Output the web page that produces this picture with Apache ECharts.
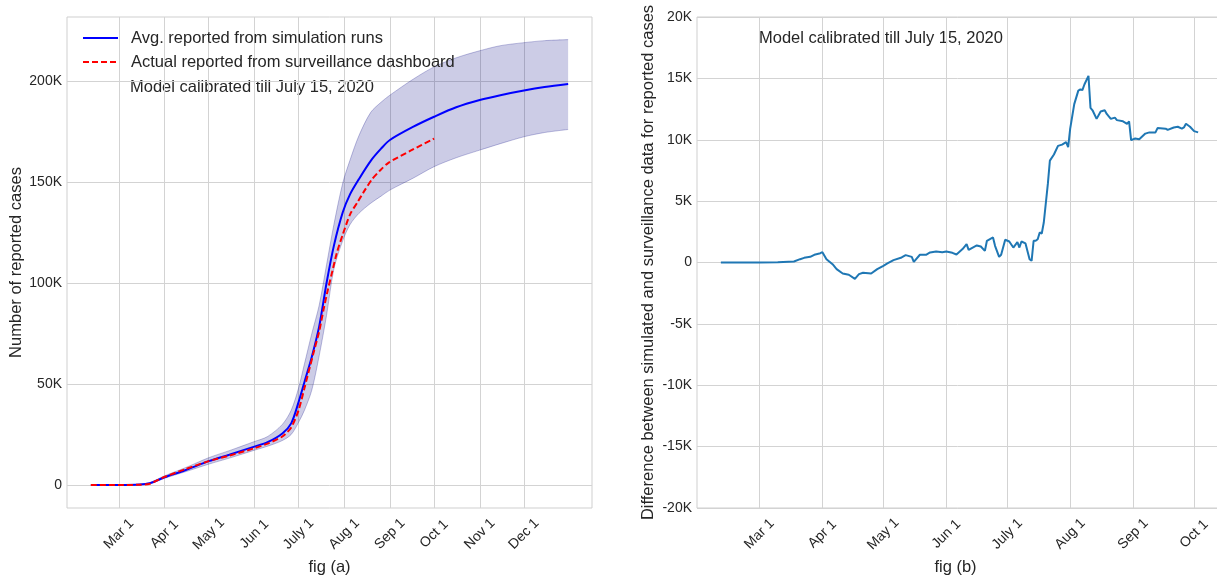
<!DOCTYPE html>
<html>
<head>
<meta charset="utf-8">
<title>Reported cases: simulation vs surveillance</title>
<script src="https://cdn.jsdelivr.net/npm/echarts@6/dist/echarts.min.js"></script>
<style>
  html, body { margin: 0; padding: 0; background: #ffffff; }
  #chart { width: 1217px; height: 577px; }
</style>
</head>
<body>
<div id="chart"></div>
<script>
// ---- data (values in thousands of cases) ----
const simDates = ['2020-02-11','2020-03-01','2020-03-15','2020-03-22','2020-04-01','2020-04-15','2020-05-01','2020-05-15',
  '2020-06-01','2020-06-10','2020-06-20','2020-06-26','2020-07-01','2020-07-05','2020-07-10','2020-07-15','2020-07-20',
  '2020-07-25','2020-07-31','2020-08-05','2020-08-11','2020-08-19','2020-08-26','2020-09-01','2020-09-17','2020-10-01',
  '2020-10-16','2020-11-01','2020-11-15','2020-12-01','2020-12-15','2020-12-31'];
const simAvg   = [0, 0, 0.2, 0.9, 3.8, 7.3, 11.8, 15.0, 19.0, 21.2, 25.5, 30.5, 41, 51, 63.5, 78.5, 100,
  118.5, 135, 144, 151.5, 160.5, 166.5, 170.8, 177.4, 182.3, 187, 190.6, 193, 195.3, 197, 198.5];
const simLower = [0, 0, 0.1, 0.6, 3.3, 6.5, 10.3, 13.3, 17.2, 19.2, 22, 25, 31, 37, 47, 64, 84,
  107, 121, 129, 134.5, 139.5, 143, 146, 152, 157.6, 162, 165.8, 169, 172.4, 174.5, 176];
const simUpper = [0, 0, 0.3, 1.2, 4.5, 8.5, 13.5, 17, 21.5, 24, 30, 37, 48, 60, 75, 89, 109,
  129, 149.5, 161, 173, 184.5, 189.5, 193, 201, 207, 211.5, 215, 217.5, 219, 220, 220.5];

const actualDates = ['2020-02-11','2020-03-01','2020-03-15','2020-03-22','2020-04-01','2020-04-15','2020-05-01','2020-05-15',
  '2020-06-01','2020-06-10','2020-06-20','2020-06-26','2020-07-01','2020-07-05','2020-07-11','2020-07-15','2020-07-18',
  '2020-07-21','2020-07-24','2020-07-27','2020-07-31','2020-08-05','2020-08-10','2020-08-15','2020-08-20','2020-08-25',
  '2020-08-31','2020-09-15','2020-10-01'];
const actualValues = [0, 0, 0.1, 0.6, 4.0, 7.8, 11.8, 14.5, 18.2, 20.5, 24, 28.5, 37, 48, 65, 76, 87,
  97, 106, 115, 124, 134, 140, 146, 151.5, 155.5, 159.5, 165.5, 171.5];

const diffDates = ['2020-02-11','2020-03-01','2020-03-10','2020-03-18','2020-03-21','2020-03-23','2020-03-26','2020-03-28',
  '2020-03-31','2020-04-01','2020-04-03','2020-04-06','2020-04-08','2020-04-11','2020-04-14','2020-04-17','2020-04-19',
  '2020-04-21','2020-04-25','2020-04-28','2020-05-01','2020-05-03','2020-05-06','2020-05-10','2020-05-12','2020-05-15',
  '2020-05-16','2020-05-19','2020-05-22','2020-05-24','2020-05-27','2020-05-30','2020-06-01','2020-06-04','2020-06-06',
  '2020-06-09','2020-06-11','2020-06-12','2020-06-14','2020-06-16','2020-06-18','2020-06-20','2020-06-21','2020-06-24',
  '2020-06-25','2020-06-27','2020-06-28','2020-06-30','2020-07-02','2020-07-04','2020-07-06','2020-07-07','2020-07-08',
  '2020-07-10','2020-07-12','2020-07-13','2020-07-14','2020-07-15','2020-07-16','2020-07-17','2020-07-18','2020-07-19',
  '2020-07-21','2020-07-22','2020-07-24','2020-07-26','2020-07-28','2020-07-30','2020-07-31','2020-08-01','2020-08-03',
  '2020-08-05','2020-08-06','2020-08-07','2020-08-08','2020-08-10','2020-08-11','2020-08-12','2020-08-14','2020-08-16',
  '2020-08-18','2020-08-19','2020-08-21','2020-08-23','2020-08-24','2020-08-27','2020-08-29','2020-08-30','2020-08-31',
  '2020-09-02','2020-09-04','2020-09-07','2020-09-09','2020-09-12','2020-09-13','2020-09-17','2020-09-18','2020-09-21',
  '2020-09-23','2020-09-25','2020-09-26','2020-09-27','2020-09-29','2020-10-01','2020-10-03'];
const diffValues = [0, 0, 0.02, 0.08, 0.27, 0.38, 0.46, 0.63,
  0.76, 0.84, 0.27, -0.14, -0.54, -0.9, -1.0, -1.33, -0.95,
  -0.84, -0.9, -0.54, -0.27, -0.08, 0.19, 0.41, 0.6, 0.46,
  0.05, 0.63, 0.63, 0.82, 0.9, 0.84, 0.9, 0.79, 0.65,
  1.09, 1.5, 1.03, 1.22, 1.39, 1.3, 0.95, 1.77, 2.04,
  1.36, 0.46, 0.63, 1.85, 1.71, 1.22, 1.66, 1.22, 1.71,
  1.55, 0.27, 0.14, 1.77, 1.77, 1.9, 2.45, 2.36, 3.26,
  6.4, 8.3, 8.8, 9.5, 9.6, 9.8, 9.4, 10.9, 12.9,
  14.0, 14.1, 14.05, 14.5, 15.2, 12.6, 12.4, 11.7, 12.3,
  12.4, 12.1, 11.7, 11.8, 11.6, 11.5, 11.3, 11.5, 9.97,
  10.1, 10.05, 10.5, 10.6, 10.6, 10.95, 10.9, 10.8, 11.0,
  11.06, 10.9, 11.0, 11.3, 11.06, 10.7, 10.6];

// ---- tick labels ----
const monthTicksA = ['2020-03-01','2020-04-01','2020-05-01','2020-06-01','2020-07-01','2020-08-01','2020-09-01','2020-10-01','2020-11-01','2020-12-01'];
const monthTicksB = ['2020-03-01','2020-04-01','2020-05-01','2020-06-01','2020-07-01','2020-08-01','2020-09-01','2020-10-01'];
const monthLabels = ['Mar 1','Apr 1','May 1','Jun 1','July 1','Aug 1','Sep 1','Oct 1','Nov 1','Dec 1'];
const yTicksA = [0, 50, 100, 150, 200];
const yTicksB = [-20, -15, -10, -5, 0, 5, 10, 15, 20];

// ---- helpers: dates become UTC-midnight timestamps ----
const DAY = 86400000;
function ts(s) { const p = s.split('-').map(Number); return Date.UTC(p[0], p[1] - 1, p[2]); }
function pairs(dates, vals) { return dates.map((d, i) => [ts(d), vals[i]]); }
const tickTsA = monthTicksA.map(ts);
const tickTsB = monthTicksB.map(ts);
function monthLabel(v) {
  const i = tickTsA.indexOf(v);
  return i >= 0 ? monthLabels[i] : '';
}
function kLabel(v) { return v === 0 ? '0' : v + 'K'; }

const xMinA = ts('2020-01-25') + 0.8 * DAY, xMaxA = ts('2021-01-16') + 0.2 * DAY;
const xMinB = ts('2020-01-30') + 0.25 * DAY, xMaxB = ts('2020-10-14') + 0.75 * DAY;

const FONT = '"Liberation Sans", Arial, sans-serif';
const TXT = '#262626';
const GRID = '#d3d3d3';

const xAxisCommon = {
  type: 'value',
  axisLine: { show: false },
  splitLine: { show: true, lineStyle: { color: GRID, width: 1 } },
  axisLabel: {
    rotate: 45, align: 'center', verticalAlign: 'middle', margin: 26,
    fontSize: 14, fontFamily: FONT, color: TXT, formatter: monthLabel, hideOverlap: false
  },
  nameLocation: 'middle', nameGap: 49,
  nameTextStyle: { fontSize: 16.5, fontFamily: FONT, color: TXT }
};
const yAxisCommon = {
  type: 'value',
  axisLine: { show: false },
  splitLine: { show: true, lineStyle: { color: GRID, width: 1 } },
  axisLabel: { fontSize: 14, fontFamily: FONT, color: TXT, margin: 5, formatter: kLabel },
  nameLocation: 'middle', nameGap: 40, nameRotate: 90,
  nameTextStyle: { fontSize: 16.5, fontFamily: FONT, color: TXT }
};

const chart = echarts.init(document.getElementById('chart'), null, { renderer: 'canvas' });
chart.setOption({
  animation: false,
  backgroundColor: '#ffffff',
  grid: [
    { left: 67, width: 525, top: 17, height: 491, outerBoundsMode: 'none', containLabel: false,
      show: true, borderColor: '#cfcfcf', borderWidth: 1, backgroundColor: 'transparent' },
    { left: 697, width: 525, top: 17, height: 491, outerBoundsMode: 'none', containLabel: false,
      show: true, borderColor: '#cfcfcf', borderWidth: 1, backgroundColor: 'transparent' }
  ],
  xAxis: [
    Object.assign({}, xAxisCommon, {
      gridIndex: 0, name: 'fig (a)', min: xMinA, max: xMaxA,
      axisLabel: Object.assign({}, xAxisCommon.axisLabel, { customValues: tickTsA }),
      axisTick: { show: false, customValues: tickTsA }
    }),
    Object.assign({}, xAxisCommon, {
      gridIndex: 1, name: 'fig (b)', min: xMinB, max: xMaxB,
      nameTextStyle: Object.assign({}, xAxisCommon.nameTextStyle, { padding: [0, 8, 0, 0] }),
      axisLabel: Object.assign({}, xAxisCommon.axisLabel, { customValues: tickTsB }),
      axisTick: { show: false, customValues: tickTsB }
    }),
    // hidden time axis sharing the left panel's range, so the spread band stacks along y
    { type: 'time', gridIndex: 0, min: xMinA, max: xMaxA, show: false }
  ],
  yAxis: [
    Object.assign({}, yAxisCommon, {
      gridIndex: 0, name: 'Number of reported cases', nameGap: 37,
      min: -11.4, max: 231.7,
      axisLabel: Object.assign({}, yAxisCommon.axisLabel, { customValues: yTicksA }),
      axisTick: { show: false, customValues: yTicksA }
    }),
    Object.assign({}, yAxisCommon, {
      gridIndex: 1, name: 'Difference between simulated and surveillance data for reported cases',
      min: -20, max: 20,
      axisLabel: Object.assign({}, yAxisCommon.axisLabel, { customValues: yTicksB }),
      axisTick: { show: false, customValues: yTicksB }
    })
  ],
  legend: {
    data: ['Avg. reported from simulation runs', 'Actual reported from surveillance dashboard'],
    orient: 'vertical', left: 82, top: 29, padding: 0,
    itemWidth: 35, itemHeight: 18, itemGap: 6,
    selectedMode: false,
    itemStyle: { opacity: 0 },
    textStyle: { fontSize: 16.5, fontFamily: FONT, color: TXT, padding: [0, 0, 0, 8], lineHeight: 18 }
  },
  graphic: [
    { type: 'text', left: 130, top: 79, silent: true,
      style: { text: 'Model calibrated till July 15, 2020', font: '16.5px ' + FONT, fill: TXT } },
    { type: 'text', left: 759, top: 30, silent: true,
      style: { text: 'Model calibrated till July 15, 2020', font: '16.5px ' + FONT, fill: TXT } }
  ],
  series: [
    {
      name: 'band-lower', type: 'line', xAxisIndex: 2, yAxisIndex: 0, stack: 'band',
      data: pairs(simDates, simLower), symbol: 'none', smooth: 0.3, silent: true,
      lineStyle: { color: 'rgba(0,0,128,0.25)', width: 1 }, z: 1
    },
    {
      name: 'band-width', type: 'line', xAxisIndex: 2, yAxisIndex: 0, stack: 'band',
      data: simDates.map((d, i) => [ts(d), simUpper[i] - simLower[i]]),
      symbol: 'none', smooth: 0.3, silent: true,
      lineStyle: { color: 'rgba(0,0,128,0.25)', width: 1 },
      areaStyle: { color: 'rgb(0,0,128)', opacity: 0.2 }, z: 1
    },
    {
      name: 'Avg. reported from simulation runs', type: 'line', xAxisIndex: 0, yAxisIndex: 0,
      data: pairs(simDates, simAvg), symbol: 'none', smooth: 0.3,
      color: '#0000ff', lineStyle: { color: '#0000ff', width: 2 }, z: 3
    },
    {
      name: 'Actual reported from surveillance dashboard', type: 'line', xAxisIndex: 0, yAxisIndex: 0,
      data: pairs(actualDates, actualValues), symbol: 'none', smooth: 0.25,
      color: '#ff0000', lineStyle: { color: '#ff0000', width: 2, type: [6, 3] }, z: 4
    },
    {
      name: 'difference', type: 'line', xAxisIndex: 1, yAxisIndex: 1,
      data: pairs(diffDates, diffValues), symbol: 'none',
      color: '#1f77b4', lineStyle: { color: '#1f77b4', width: 2 }, z: 3
    }
  ]
});
</script>
</body>
</html>
